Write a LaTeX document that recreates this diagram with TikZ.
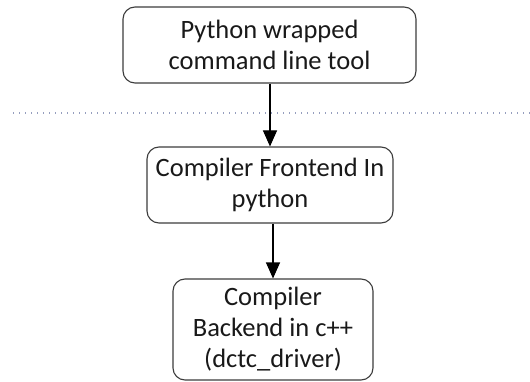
\documentclass[tikz,border=0pt]{standalone}
\usepackage{fontspec}
\setmainfont{Carlito}
\usetikzlibrary{arrows.meta}
\definecolor{boxline}{RGB}{60,60,60}
\definecolor{sepdots}{RGB}{150,158,190}
\tikzset{
  procbox/.style={draw=boxline, line width=1.1pt, rounded corners=12pt,
    align=center, inner sep=0pt, text=black!90,
    font=\fontsize{26.5}{31}\selectfont},
  flow/.style={draw=black, line width=1.1pt,
    -{Triangle[length=16pt,width=14pt]}},
  sepline/.style={draw=sepdots, line width=1.4pt, dash pattern=on 1.4pt off 4.6pt}
}
\begin{document}
\begin{tikzpicture}[x=1pt,y=-1pt]
  \useasboundingbox (0,0) rectangle (530,382);
  \fill[white] (0,0) rectangle (530,382);
  % separator
  \coordinate (sepL) at (13,113);
  \coordinate (sepR) at (530,113);
  \draw[sepline] (sepL) -- (sepR);
  % stages
  \node[procbox, minimum width=293pt, minimum height=76pt] (tool) at (269.5,45)
    {Python wrapped\\command line tool};
  \node[procbox, minimum width=246pt, minimum height=76pt] (front) at (270,185)
    {Compiler Frontend In\\python};
  \node[procbox, minimum width=200pt, minimum height=101pt] (back) at (273,329.5)
    {Compiler\\Backend in c++\\(dctc\_driver)};
  % flow
  \draw[flow] (tool.south -| 270,0) -- (front.north -| 270,0);
  \draw[flow] (front.south -| 273,0) -- (back.north -| 273,0);
\end{tikzpicture}
\end{document}
